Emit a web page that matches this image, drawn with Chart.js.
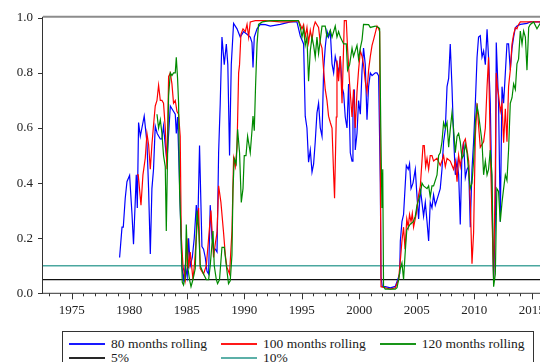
<!DOCTYPE html>
<html>
<head>
<meta charset="utf-8">
<title>Rolling p-values</title>
<script src="https://cdn.jsdelivr.net/npm/chart.js@4.4.1/dist/chart.umd.min.js"></script>
<style>
    html, body { margin: 0; padding: 0; background: #fff; overflow: hidden; }
    #frame { position: relative; width: 540px; height: 362px; overflow: hidden; }
    #chart { position: absolute; left: 0; top: 0; }
    #legend {
        position: absolute; left: 62px; top: 331px; width: 472px; height: 40px;
        box-sizing: border-box; border: 1px solid #333; background: #fff;
        padding: 5px 0 0 6px;
        font-family: "Liberation Serif", "Times New Roman", serif; font-size: 13.5px; color: #1a1a1a;
        display: grid; grid-template-columns: auto auto auto; grid-template-rows: 14px 14px;
        justify-content: start; column-gap: 14px; line-height: 14px;
    }
    .item { display: flex; align-items: center; white-space: nowrap; height: 14px; }
    .swatch { display: block; width: 36px; height: 2px; margin-right: 6px; opacity: 0.9; }
</style>
</head>
<body>
<div id="frame">
    <canvas id="chart" width="600" height="330"></canvas>
    <div id="legend"></div>
</div>
<script>
// ---------- Data (decimal year, value) ----------
var blue80 = [
    [1979.16,0.13],[1979.37,0.24],[1979.48,0.24],[1979.65,0.345],[1979.80,0.405],[1980.03,0.428],[1980.24,0.286],
    [1980.37,0.178],[1980.52,0.333],[1980.61,0.43],[1980.70,0.31],[1980.81,0.62],[1980.96,0.57],[1981.10,0.60],
    [1981.30,0.643],[1981.54,0.547],[1981.68,0.38],[1981.83,0.143],[1981.97,0.38],[1982.11,0.45],[1982.26,0.607],
    [1982.43,0.58],[1982.70,0.56],[1982.84,0.56],[1982.98,0.607],[1983.13,0.536],[1983.28,0.48],[1983.57,0.68],
    [1983.71,0.67],[1984.00,0.65],[1984.09,0.58],[1984.20,0.64],[1984.37,0.40],[1984.58,0.095],[1984.72,0.05],
    [1984.87,0.10],[1985.04,0.06],[1985.16,0.20],[1985.30,0.10],[1985.48,0.13],[1985.65,0.20],[1985.83,0.32],
    [1985.96,0.25],[1986.11,0.536],[1986.32,0.17],[1986.46,0.16],[1986.61,0.13],[1986.76,0.08],[1986.90,0.07],
    [1987.04,0.32],[1987.19,0.20],[1987.33,0.16],[1987.48,0.16],[1987.63,0.15],[1987.77,0.51],[1987.91,0.69],
    [1988.06,0.93],[1988.26,0.83],[1988.44,0.905],[1988.57,0.83],[1988.72,0.50],[1988.87,0.83],[1989.07,0.98],
    [1989.37,0.96],[1989.65,0.93],[1989.94,0.95],[1990.24,0.94],[1990.52,0.93],[1990.67,0.91],[1990.76,0.82],
    [1990.87,0.93],[1991.11,0.96],[1991.39,0.976],[1991.83,0.975],[1992.26,0.97],[1993.13,0.976],[1994.00,0.985],
    [1994.58,0.985],[1994.87,0.934],[1995.16,0.905],[1995.30,0.643],[1995.45,0.60],[1995.59,0.476],[1995.74,0.52],
    [1995.89,0.44],[1996.03,0.47],[1996.17,0.55],[1996.32,0.655],[1996.46,0.69],[1996.61,0.60],[1996.76,0.57],
    [1996.90,0.81],[1997.04,0.893],[1997.19,0.952],[1997.33,0.93],[1997.48,0.95],[1997.63,0.833],[1997.77,0.80],
    [1997.91,0.86],[1998.06,0.83],[1998.20,0.80],[1998.35,0.86],[1998.50,0.75],[1998.64,0.726],[1998.78,0.64],
    [1998.93,0.60],[1999.07,0.76],[1999.22,0.51],[1999.37,0.48],[1999.45,0.69],[1999.57,0.74],[1999.65,0.52],
    [1999.80,0.58],[1999.94,0.70],[2000.09,0.65],[2000.24,0.81],[2000.37,0.89],[2000.52,0.83],[2000.67,0.63],
    [2000.81,0.75],[2000.96,0.80],[2001.11,0.79],[2001.39,0.80],[2001.54,0.80],[2001.68,0.79],[2001.83,0.40],
    [2001.89,0.06],[2002.00,0.024],[2002.26,0.024],[2002.70,0.02],[2003.13,0.025],[2003.33,0.048],[2003.51,0.07],
    [2003.57,0.19],[2003.71,0.26],[2003.85,0.286],[2004.09,0.464],[2004.26,0.45],[2004.37,0.47],[2004.50,0.38],
    [2004.67,0.40],[2004.87,0.45],[2005.02,0.35],[2005.16,0.27],[2005.31,0.38],[2005.45,0.33],[2005.59,0.28],
    [2005.74,0.33],[2005.89,0.26],[2006.03,0.19],[2006.17,0.33],[2006.32,0.31],[2006.46,0.357],[2006.61,0.32],
    [2006.76,0.34],[2007.04,0.38],[2007.19,0.45],[2007.33,0.55],[2007.48,0.595],[2007.63,0.75],[2007.77,0.78],
    [2007.91,0.905],[2008.06,0.75],[2008.20,0.57],[2008.35,0.43],[2008.50,0.48],[2008.64,0.43],[2008.78,0.25],
    [2008.93,0.51],[2009.07,0.55],[2009.22,0.42],[2009.37,0.45],[2009.51,0.46],[2009.65,0.24],[2009.80,0.45],
    [2009.94,0.55],[2010.09,0.69],[2010.24,0.857],[2010.37,0.93],[2010.52,0.935],[2010.67,0.857],[2010.81,0.88],
    [2010.96,0.83],[2011.11,0.958],[2011.24,0.857],[2011.39,0.69],[2011.54,0.333],[2011.68,0.048],[2011.83,0.26],
    [2011.91,0.91],[2012.03,0.78],[2012.11,0.69],[2012.26,0.26],[2012.41,0.75],[2012.55,0.69],[2012.70,0.80],
    [2012.84,0.905],[2012.98,0.905],[2013.13,0.81],[2013.28,0.89],[2013.42,0.93],[2013.57,0.964],[2013.71,0.97],
    [2014.00,0.976],[2014.58,0.98],[2014.87,0.985],[2015.80,0.985]
];

var red100 = [
    [1980.67,0.43],[1980.78,0.43],[1981.02,0.32],[1981.19,0.43],[1981.39,0.49],[1981.54,0.58],[1981.68,0.54],
    [1981.83,0.45],[1981.97,0.54],[1982.11,0.61],[1982.26,0.68],[1982.41,0.70],[1982.55,0.755],[1982.70,0.70],
    [1982.84,0.70],[1982.98,0.69],[1983.13,0.60],[1983.28,0.45],[1983.42,0.786],[1983.57,0.80],[1983.71,0.76],
    [1983.85,0.69],[1984.00,0.70],[1984.15,0.66],[1984.29,0.65],[1984.43,0.57],[1984.52,0.21],[1984.67,0.10],
    [1984.87,0.05],[1985.02,0.20],[1985.16,0.09],[1985.30,0.15],[1985.54,0.05],[1985.68,0.11],[1985.89,0.24],
    [1986.03,0.31],[1986.17,0.09],[1986.46,0.07],[1986.70,0.10],[1986.90,0.20],[1987.10,0.30],[1987.33,0.13],
    [1987.48,0.18],[1987.63,0.22],[1987.77,0.39],[1987.97,0.33],[1988.20,0.22],[1988.35,0.14],[1988.49,0.095],
    [1988.72,0.07],[1988.93,0.226],[1989.07,0.49],[1989.22,0.46],[1989.37,0.53],[1989.51,0.80],[1989.59,0.83],
    [1989.71,0.94],[1989.89,0.96],[1990.09,0.95],[1990.24,0.976],[1990.38,0.93],[1990.52,0.985],[1990.96,0.99],
    [1991.83,0.99],[1993.13,0.985],[1994.00,0.985],[1994.72,0.99],[1995.02,0.96],[1995.16,0.975],[1995.30,0.93],
    [1995.45,0.965],[1995.59,0.91],[1995.74,0.955],[1995.89,0.92],[1996.03,0.965],[1996.17,0.985],[1996.46,0.965],
    [1996.61,0.91],[1996.76,0.89],[1996.90,0.81],[1997.04,0.74],[1997.19,0.70],[1997.33,0.643],[1997.48,0.62],
    [1997.63,0.60],[1997.77,0.43],[1997.85,0.345],[1998.00,0.64],[1998.06,0.845],[1998.20,0.77],[1998.35,0.86],
    [1998.50,0.69],[1998.70,0.99],[1998.87,0.99],[1998.98,0.89],[1999.16,0.76],[1999.37,0.64],[1999.50,0.74],
    [1999.65,0.60],[1999.80,0.73],[1999.94,0.81],[2000.09,0.88],[2000.24,0.86],[2000.37,0.83],[2000.52,0.77],
    [2000.67,0.73],[2000.81,0.81],[2000.96,0.86],[2001.11,0.90],[2001.24,0.92],[2001.54,0.97],[2001.68,0.96],
    [2001.77,0.95],[2001.89,0.024],[2002.26,0.02],[2002.70,0.015],[2003.13,0.02],[2003.42,0.05],[2003.57,0.12],
    [2003.71,0.19],[2003.85,0.24],[2003.98,0.16],[2004.13,0.27],[2004.26,0.24],[2004.37,0.286],[2004.50,0.26],
    [2004.61,0.29],[2004.72,0.24],[2004.96,0.29],[2005.16,0.357],[2005.31,0.39],[2005.54,0.536],[2005.65,0.536],
    [2005.77,0.46],[2005.89,0.49],[2006.03,0.45],[2006.17,0.50],[2006.32,0.50],[2006.46,0.48],[2006.76,0.49],
    [2007.04,0.464],[2007.19,0.48],[2007.33,0.50],[2007.48,0.46],[2007.63,0.49],[2007.91,0.48],[2008.20,0.45],
    [2008.35,0.48],[2008.50,0.405],[2008.64,0.50],[2008.78,0.46],[2009.07,0.547],[2009.22,0.56],[2009.37,0.52],
    [2009.51,0.48],[2009.65,0.33],[2009.80,0.107],[2009.94,0.22],[2010.09,0.57],[2010.24,0.69],[2010.37,0.61],
    [2010.52,0.53],[2010.81,0.55],[2010.96,0.60],[2011.11,0.75],[2011.24,0.857],[2011.39,0.53],[2011.54,0.28],
    [2011.68,0.05],[2011.83,0.45],[2011.91,0.80],[2012.03,0.74],[2012.11,0.72],[2012.26,0.66],[2012.41,0.69],
    [2012.55,0.547],[2012.70,0.67],[2012.84,0.55],[2012.98,0.75],[2013.13,0.81],[2013.28,0.905],[2013.42,0.94],
    [2013.57,0.964],[2013.71,0.96],[2013.85,0.976],[2014.00,0.985],[2014.87,0.985],[2015.80,0.985]
];

var green120 = [
    [1982.41,0.65],[1982.55,0.60],[1982.70,0.63],[1982.84,0.58],[1982.98,0.50],[1983.13,0.46],[1983.22,0.226],
    [1983.33,0.50],[1983.42,0.715],[1983.57,0.80],[1983.71,0.79],[1983.85,0.80],[1984.00,0.80],[1984.09,0.857],
    [1984.20,0.78],[1984.29,0.69],[1984.37,0.38],[1984.50,0.22],[1984.61,0.04],[1984.72,0.03],[1984.87,0.06],
    [1984.96,0.25],[1985.07,0.10],[1985.24,0.05],[1985.37,0.024],[1985.54,0.05],[1985.74,0.09],[1985.89,0.30],
    [1986.03,0.24],[1986.17,0.10],[1986.46,0.07],[1986.70,0.05],[1986.90,0.05],[1987.04,0.10],[1987.28,0.226],
    [1987.39,0.10],[1987.57,0.05],[1987.68,0.035],[1987.85,0.05],[1988.06,0.167],[1988.26,0.167],[1988.44,0.10],
    [1988.63,0.035],[1988.78,0.045],[1988.93,0.14],[1989.02,0.38],[1989.13,0.49],[1989.30,0.47],[1989.42,0.595],
    [1989.59,0.51],[1989.74,0.33],[1989.89,0.38],[1990.00,0.50],[1990.15,0.50],[1990.29,0.57],[1990.52,0.51],
    [1990.67,0.59],[1990.76,0.643],[1990.87,0.59],[1990.98,0.75],[1991.11,0.905],[1991.24,0.976],[1991.57,0.985],
    [1992.26,0.99],[1993.13,0.99],[1994.00,0.99],[1994.70,0.99],[1994.87,0.965],[1995.02,0.93],[1995.16,0.96],
    [1995.30,0.90],[1995.45,0.93],[1995.59,0.77],[1995.74,0.88],[1995.89,0.93],[1996.03,0.90],[1996.17,0.857],
    [1996.32,0.93],[1996.46,0.87],[1996.76,0.97],[1997.04,0.97],[1997.19,0.93],[1997.33,0.94],[1997.48,0.955],
    [1997.63,0.93],[1997.91,0.97],[1998.06,0.93],[1998.20,0.95],[1998.35,0.93],[1998.64,0.905],[1998.87,0.905],
    [1998.98,0.81],[1999.16,0.83],[1999.37,0.89],[1999.50,0.86],[1999.65,0.88],[1999.80,0.90],[1999.94,0.85],
    [2000.09,0.89],[2000.24,0.92],[2000.37,0.976],[2000.81,0.975],[2000.96,0.965],[2001.39,0.97],[2001.68,0.965],
    [2001.77,0.96],[2001.87,0.60],[2001.97,0.31],[2002.04,0.45],[2002.11,0.024],[2002.26,0.015],[2003.13,0.015],
    [2003.28,0.02],[2003.42,0.05],[2003.57,0.09],[2003.71,0.11],[2003.85,0.05],[2003.98,0.14],[2004.13,0.23],
    [2004.27,0.24],[2004.41,0.25],[2004.70,0.26],[2004.87,0.28],[2005.02,0.32],[2005.16,0.34],[2005.31,0.36],
    [2005.45,0.40],[2005.59,0.39],[2005.89,0.38],[2006.03,0.39],[2006.17,0.35],[2006.32,0.39],[2006.46,0.39],
    [2006.76,0.43],[2006.90,0.50],[2007.04,0.51],[2007.19,0.55],[2007.33,0.62],[2007.48,0.60],[2007.63,0.62],
    [2007.77,0.53],[2007.91,0.595],[2008.06,0.655],[2008.20,0.595],[2008.35,0.51],[2008.50,0.57],[2008.64,0.58],
    [2008.78,0.55],[2008.93,0.49],[2009.07,0.50],[2009.22,0.54],[2009.37,0.51],[2009.51,0.44],[2009.65,0.38],
    [2009.80,0.40],[2009.94,0.48],[2010.09,0.62],[2010.24,0.68],[2010.37,0.65],[2010.52,0.60],[2010.67,0.55],
    [2010.81,0.43],[2010.96,0.48],[2011.11,0.43],[2011.24,0.45],[2011.39,0.52],[2011.54,0.43],[2011.68,0.024],
    [2011.83,0.07],[2011.96,0.38],[2012.11,0.37],[2012.26,0.26],[2012.41,0.33],[2012.55,0.38],[2012.70,0.43],
    [2012.84,0.41],[2012.98,0.52],[2013.13,0.69],[2013.28,0.71],[2013.42,0.76],[2013.57,0.74],[2013.71,0.833],
    [2013.85,0.85],[2014.00,0.952],[2014.15,0.905],[2014.29,0.952],[2014.44,0.93],[2014.58,0.81],[2014.73,0.965],
    [2014.87,0.976],[2015.16,0.985],[2015.45,0.96],[2015.80,0.985]
];

var seriesLabels = ['80 months rolling', '100 months rolling', '120 months rolling', '5%', '10%'];
var seriesColors = ['#0000ff', '#ff0000', '#008a00', '#111111', '#4aa79f'];
var thresholds = [0.05, 0.10];
var yearTicks = [1975, 1980, 1985, 1990, 1995, 2000, 2005, 2010, 2015];
var valueTicks = [0, 0.2, 0.4, 0.6, 0.8, 1.0];

// x range: the picture is cropped on the right, so the plot runs past the window
var X_MIN = 1972.5;
var X_MAX = 2020.93;

function toPoints(pairs) {
    return pairs.map(function(p) { return { x: p[0], y: p[1] }; });
}

function flatLine(v) {
    return [{ x: X_MIN, y: v }, { x: X_MAX, y: v }];
}

// ---------- Axis frame and tick marks ----------
var axesFrame = {
    id: 'axesFrame',
    afterDraw: function(chart) {
        var ctx = chart.ctx;
        var area = chart.chartArea;
        var xs = chart.scales.x;
        var ys = chart.scales.y;
        ctx.save();

        // top border
        ctx.strokeStyle = '#8c8c8c';
        ctx.lineWidth = 2;
        ctx.beginPath();
        ctx.moveTo(area.left, area.top - 1);
        ctx.lineTo(area.right, area.top - 1);
        ctx.stroke();

        // left and bottom axis
        ctx.strokeStyle = '#333';
        ctx.lineWidth = 1;
        ctx.beginPath();
        ctx.moveTo(area.left - 0.5, area.top - 1);
        ctx.lineTo(area.left - 0.5, area.bottom);
        ctx.lineTo(area.right, area.bottom);
        ctx.stroke();

        // y tick marks
        ctx.beginPath();
        valueTicks.forEach(function(v) {
            var py = Math.round(ys.getPixelForValue(v)) + 0.5;
            ctx.moveTo(area.left - 5, py);
            ctx.lineTo(area.left, py);
        });
        ctx.stroke();

        // x tick marks: one per year, longer every five
        ctx.beginPath();
        for (var yr = Math.ceil(X_MIN); yr <= X_MAX; yr++) {
            var px = Math.round(xs.getPixelForValue(yr)) + 0.5;
            var len = (yr % 5 === 0) ? 6 : 3;
            ctx.moveTo(px, area.bottom);
            ctx.lineTo(px, area.bottom + len);
        }
        ctx.stroke();
        ctx.restore();
    }
};

var tickFont = { family: '"Liberation Serif", "Times New Roman", serif', size: 13 };

var chart = new Chart(document.getElementById('chart'), {
    type: 'line',
    data: {
        datasets: [
            { label: seriesLabels[0], data: toPoints(blue80), borderColor: seriesColors[0], borderWidth: 1.2, order: 3 },
            { label: seriesLabels[1], data: toPoints(red100), borderColor: seriesColors[1], borderWidth: 1.2, order: 2 },
            { label: seriesLabels[2], data: toPoints(green120), borderColor: seriesColors[2], borderWidth: 1.2, order: 1 },
            { label: seriesLabels[3], data: flatLine(thresholds[0]), borderColor: seriesColors[3], borderWidth: 1.2, order: 5 },
            { label: seriesLabels[4], data: flatLine(thresholds[1]), borderColor: seriesColors[4], borderWidth: 1.4, order: 4 }
        ]
    },
    options: {
        responsive: false,
        animation: false,
        layout: { padding: { top: 13, left: 0, right: 0, bottom: 0 } },
        plugins: {
            legend: { display: false },
            tooltip: { enabled: false }
        },
        elements: {
            point: { radius: 0 },
            line: { tension: 0, fill: false }
        },
        scales: {
            x: {
                type: 'linear',
                min: X_MIN,
                max: X_MAX,
                grid: { display: false, drawTicks: false },
                border: { display: false },
                afterBuildTicks: function(scale) {
                    scale.ticks = yearTicks.map(function(v) { return { value: v }; });
                },
                afterFit: function(scale) { scale.height = 330 - 293.3; },
                ticks: {
                    padding: 9,
                    color: '#222',
                    font: tickFont,
                    maxRotation: 0,
                    autoSkip: false,
                    callback: function(v) { return String(v); }
                }
            },
            y: {
                min: 0,
                max: 1,
                grid: { display: false, drawTicks: false },
                border: { display: false },
                afterBuildTicks: function(scale) {
                    scale.ticks = valueTicks.map(function(v) { return { value: v }; });
                },
                afterFit: function(scale) { scale.width = 43; },
                ticks: {
                    padding: 10,
                    color: '#222',
                    font: tickFont,
                    callback: function(v) { return v.toFixed(1); }
                }
            }
        }
    },
    plugins: [axesFrame]
});

// ---------- Legend built from the datasets ----------
var legend = document.getElementById('legend');
chart.data.datasets.forEach(function(ds, i) {
    var item = document.createElement('div');
    item.className = 'item';
    var sw = document.createElement('span');
    sw.className = 'swatch';
    sw.style.backgroundColor = seriesColors[i];
    var txt = document.createElement('span');
    txt.textContent = ds.label;
    item.appendChild(sw);
    item.appendChild(txt);
    legend.appendChild(item);
});
</script>
</body>
</html>
